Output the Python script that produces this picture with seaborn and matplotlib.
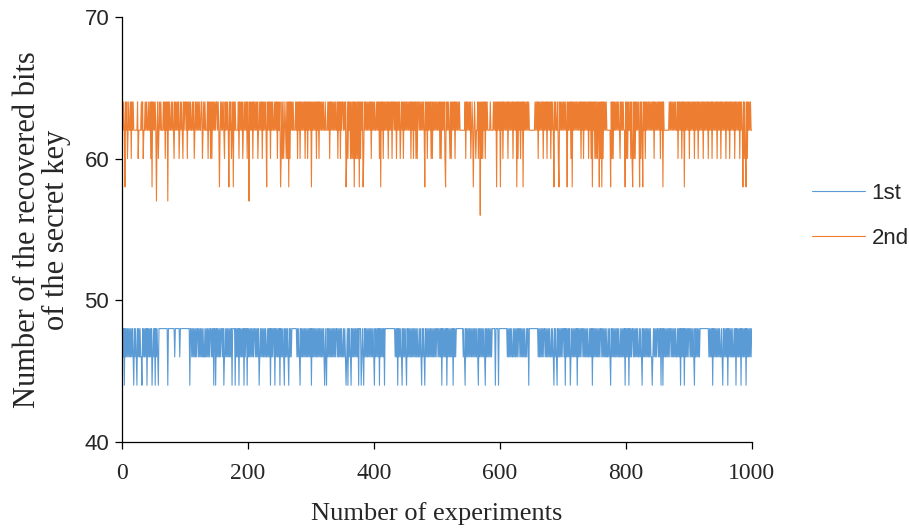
import numpy as np
import pandas as pd
import matplotlib
matplotlib.use("Agg")
import matplotlib.pyplot as plt
import seaborn as sns

# recovered bits per experiment (50 experiments per row)
# 1st series: code = 48 - value  (0 -> 48, 2 -> 46, 4 -> 44)
first_rows = [
    "0204020202 0202020240 2024020202 2402020204 0202020420",
    "2040202400 0000000000 0040000000 0002000000 0200000000",
    "0000000400 2020202020 0202020202 2020202020 0202040040",
    "2020202002 0420202020 2020400004 0202040202 0204020040",
    "2020202020 0202020420 2020202022 0202040202 0040202020",
    "4020202402 0202402020 0000000202 0240202020 2020202020",
    "4020202020 2020202020 2402402020 2020202020 0202020202",
    "2020242040 2024020202 0202040004 2024020202 0202020202",
    "4020202040 2020204000 0000000000 0002020402 0202402020",
    "2402020202 0202020202 2020240202 4020202020 2020202020",
    "0202020402 0202040202 0202040202 0000000000 0202402020",
    "2020202020 2020240202 0202024020 2020202000 0040000400",
    "0000000000 0202020202 2020202020 0202020202 2020040000",
    "0000000000 2020202020 0202020202 2020240202 4020202020",
    "0204020202 0420202020 2040202020 0202020202 2020204020",
    "2020202020 0202020202 2020240202 0202020202 2020202040",
    "2020402020 0202020202 2020240202 0202020202 2420202020",
    "0202040040 2020202020 0202020202 2020204020 2040202020",
    "0202020240 2020202000 0000000000 0202020402 0202020202",
    "2024020202 0402020202 2020402020 2040202020 4020202020",
]
# 2nd series: code = 64 - value  (0 -> 64, 2 -> 62, 4 -> 60, 6 -> 58, 7 -> 57, 8 -> 56)
second_rows = [
    "0202602042 0220402022 2222042222 0204220202 2022040602",
    "0202720420 2022202040 2070202202 0240202020 4202024020",
    "0204020202 2020420202 0202200420 2022204020 4040202020",
    "0202620202 0240202026 0204206020 2222040202 0420202040",
    "2702020402 0202042020 2040202026 0202040202 2020204022",
    "0640404202 4040604020 2022202040 2040202020 4020402020",
    "6020202040 2040202020 2202220204 0202020202 2040204020",
    "0202064040 2040404060 4040406040 2064020202 0202040202",
    "0220202040 6020402020 2040202040 0202040202 0420204020",
    "2020202040 2040204040 0202020202 6020402020 4040202020",
    "2020404020 2046020202 4040202040 2020202222 2222040202",
    "0204202620 2422040280 4040204020 2222022220 2020602020",
    "6020402020 2040202020 4020206040 2040206020 2020202222",
    "2222202020 4020202040 2020402020 4020260202 2046020202",
    "0202026020 2040602020 2020202040 2040202020 4020406020",
    "4040402604 0604020202 2222260404 0202020202 4020202260",
    "4040220404 6040402020 2604026020 4020202020 2020402020",
    "2020402060 2222222202 0202020202 2040202040 2060202020",
    "4020202040 2020402020 2040202020 4020204020 2020402020",
    "4020202040 2020402020 2040202020 4020260404 6040202022",
]

series_names = ["1st", "2nd"]
series_top = [48, 64]
series_colors = ["#5B9BD5", "#ED7D31"]
x_ticks = [0, 200, 400, 600, 800, 1000]
y_ticks = [40, 50, 60, 70]

frames = []
for name, top, rows in zip(series_names, series_top, [first_rows, second_rows]):
    codes = "".join(rows).replace(" ", "")
    vals = [top - int(c) for c in codes]
    frames.append(pd.DataFrame({"experiment": np.arange(1, len(vals) + 1),
                                "bits": vals, "series": name}))
df = pd.concat(frames, ignore_index=True)

sns.set_theme(style="ticks")
plt.rcParams['font.family'] = ['Liberation Sans', 'DejaVu Sans']

fig = plt.figure(figsize=(9.09, 5.28), dpi=100)
ax = fig.add_axes([0.134, 0.163, 0.693, 0.805])

sns.lineplot(data=df, x="experiment", y="bits", hue="series",
             palette=series_colors, linewidth=0.8, ax=ax, legend=True)

ax.set_xlim(0, 1000)
ax.set_ylim(40, 70)
ax.set_xticks(x_ticks)
ax.set_yticks(y_ticks)
sns.despine(ax=ax)
for s in ["left", "bottom"]:
    ax.spines[s].set_color("black")
    ax.spines[s].set_linewidth(0.9)

ax.tick_params(axis="both", direction="out", length=5, width=0.9, color="black")
ax.tick_params(axis="y", labelsize=16, pad=4)
ax.tick_params(axis="x", labelsize=17, pad=10)
for lab in ax.get_xticklabels():
    lab.set_family("Liberation Serif")

ax.set_xlabel("Number of experiments", family="Liberation Serif", fontsize=19, labelpad=13)
ax.set_ylabel("Number of the recovered bits\nof the secret key",
              family="Liberation Serif", fontsize=22, linespacing=1.0, labelpad=10)

ax.legend(loc="center left", bbox_to_anchor=(0.893, 0.591),
          bbox_transform=fig.transFigure, frameon=False, fontsize=16,
          borderpad=0, borderaxespad=0, handlelength=2.4, handletextpad=0.3,
          labelspacing=1.1)

fig.savefig("out.png", dpi=100)
